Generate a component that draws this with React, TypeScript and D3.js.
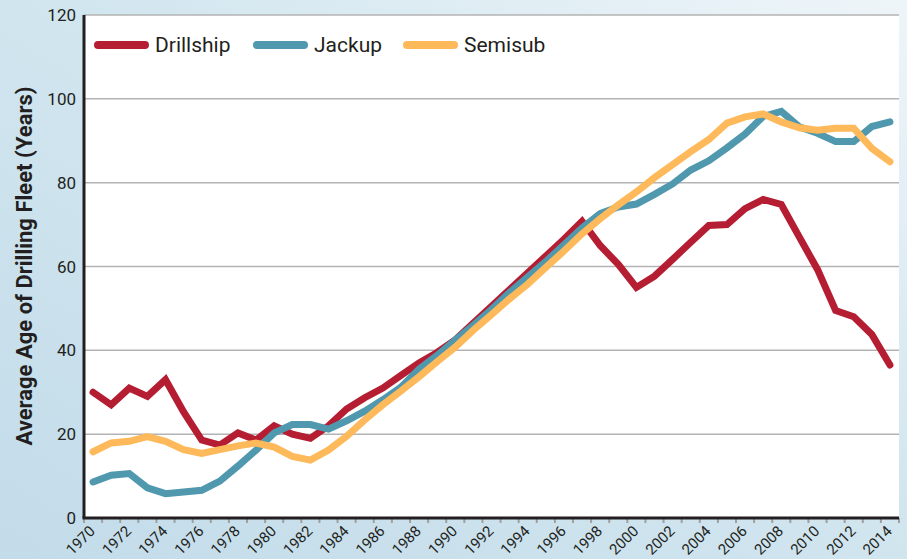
import React from "react";
import * as d3 from "d3";

const years: number[] = [];
for (let y = 1970; y <= 2014; y++) years.push(y);

const drillship = [30, 27, 31, 29, 33, 25.3, 18.6, 17.4, 20.3, 18.6, 22, 20, 19, 22, 26, 28.7, 31, 34, 37, 39.5, 42.5, 46.5, 50.5, 54.5, 58.5, 62.5, 66.5, 70.8, 65, 60.5, 55, 57.7, 61.7, 65.8, 69.8, 70, 73.8, 76, 74.8, 67, 59.3, 49.5, 48, 43.8, 36.5];
const jackup = [8.6, 10.2, 10.6, 7.2, 5.8, 6.2, 6.6, 8.8, 12.4, 16.2, 20.3, 22.3, 22.3, 21.2, 23.2, 25.5, 28.2, 31.2, 35.5, 38.8, 42.5, 46, 49.8, 53.8, 57.5, 61.2, 65.2, 69.2, 72.6, 74.2, 74.9, 77.2, 79.7, 83, 85.2, 88.3, 91.6, 95.8, 97, 93.3, 91.8, 89.8, 89.8, 93.4, 94.5];
const semisub = [15.8, 17.9, 18.3, 19.4, 18.3, 16.3, 15.4, 16.3, 17.2, 17.9, 16.9, 14.7, 13.8, 16.2, 19.5, 23.4, 27, 30.3, 33.7, 37.3, 40.8, 44.8, 48.5, 52.3, 55.8, 59.8, 63.7, 67.8, 71.4, 74.7, 77.8, 81.2, 84.3, 87.4, 90.3, 94.2, 95.7, 96.4, 94.5, 93.1, 92.5, 93, 93, 88.2, 85];

const yTicks = [0, 20, 40, 60, 80, 100, 120];
const xLabelYears = years.filter((y) => (y - 1970) % 2 === 0);

const seriesNames = ["Drillship", "Jackup", "Semisub"];
const seriesColors = ["#b51e32", "#4f98ae", "#fdb95a"];
const seriesData = [drillship, jackup, semisub];

const W = 907;
const H = 559;
const L = 84;
const R = 899;
const T = 15;
const B = 518;

export default function App() {
  const x = d3.scalePoint<number>().domain(years).range([L, R]).padding(0.5);
  const step = x.step();
  const y = d3.scaleLinear().domain([0, 120]).range([B, T]);
  const line = d3
    .line<number>()
    .x((_, i) => x(years[i]) as number)
    .y((d) => y(d));

  const boundaries = d3.range(years.length + 1).map((i) => L + i * step);
  const legendX = [98, 257, 407];
  const font = "Roboto, 'Liberation Sans', sans-serif";

  return (
    <div style={{ position: "fixed", left: 0, top: 0 }}>
      <svg width={W} height={H} style={{ display: "block" }}>
        <defs>
          <linearGradient id="bg" x1="1" y1="0" x2="0" y2="1">
            <stop offset="0" stopColor="#eef5f9" />
            <stop offset="0.45" stopColor="#d2e6ef" />
            <stop offset="1" stopColor="#c3dcea" />
          </linearGradient>
        </defs>
        <rect x={0} y={0} width={W} height={H} fill="url(#bg)" />
        <rect x={L} y={T} width={R - L} height={B - T} fill="#ffffff" />
        {yTicks.filter((t) => t > 0).map((t) => (
          <line key={t} x1={L} x2={R} y1={y(t)} y2={y(t)} stroke="#b3b3b3" strokeWidth={1.5} />
        ))}
        {yTicks.map((t) => (
          <text key={t} x={76} y={y(t)} dy="0.36em" textAnchor="end" fontFamily={font} fontSize={17} fill="#231f20">
            {t}
          </text>
        ))}
        {boundaries.map((bx, i) => (
          <line key={i} x1={bx} x2={bx} y1={B} y2={B + 5} stroke="#a0a0a0" strokeWidth={2} />
        ))}
        {xLabelYears.map((yr) => {
          const px = (x(yr) as number) + 3;
          const py = 532;
          return (
            <text key={yr} x={px} y={py} textAnchor="end" transform={`rotate(-45 ${px} ${py})`} fontFamily={font} fontSize={15} fill="#231f20">
              {yr}
            </text>
          );
        })}
        {seriesData.map((d, i) => (
          <path key={i} d={line(d) || ""} fill="none" stroke={seriesColors[i]} strokeWidth={7} strokeLinejoin="miter" strokeLinecap="round" />
        ))}
        <line x1={L} x2={L} y1={T} y2={B} stroke="#231f20" strokeWidth={3} />
        <line x1={L - 1.5} x2={R} y1={B} y2={B} stroke="#231f20" strokeWidth={3} />
        {seriesNames.map((n, i) => (
          <g key={n}>
            <line x1={legendX[i]} x2={legendX[i] + 47} y1={45} y2={45} stroke={seriesColors[i]} strokeWidth={8} strokeLinecap="round" />
            <text x={legendX[i] + 57} y={52} fontFamily={font} fontSize={21} fill="#231f20">
              {n}
            </text>
          </g>
        ))}
        <text transform={`translate(32 ${266}) rotate(-90)`} textAnchor="middle" fontFamily={font} fontSize={22} fontWeight="bold" fill="#231f20">
          Average Age of Drilling Fleet (Years)
        </text>
      </svg>
    </div>
  );
}
